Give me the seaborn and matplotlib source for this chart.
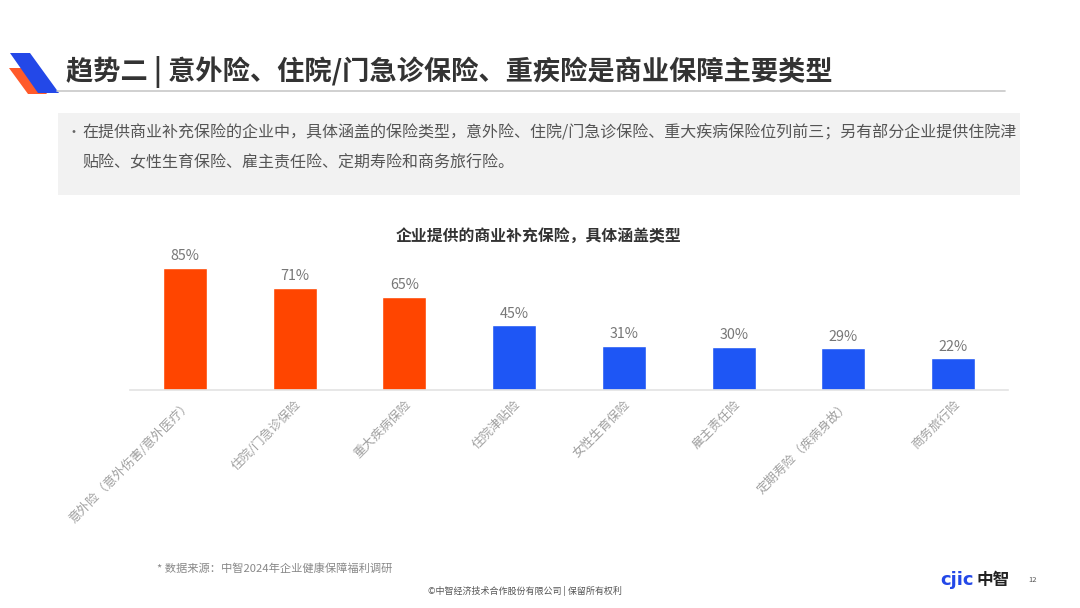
import matplotlib
matplotlib.use("Agg")
import matplotlib.pyplot as plt
from matplotlib.patches import Polygon, Rectangle
import seaborn as sns
import pandas as pd

categories = ["意外险（意外伤害/意外医疗）", "住院/门急诊保险", "重大疾病保险", "住院津贴险",
              "女性生育保险", "雇主责任险", "定期寿险（疾病身故）", "商务旅行险"]
values = [85, 71, 65, 45, 31, 30, 29, 22]
groups = ["top", "top", "top", "other", "other", "other", "other", "other"]
value_labels = ["85%", "71%", "65%", "45%", "31%", "30%", "29%", "22%"]

title = "趋势二 | 意外险、住院/门急诊保险、重疾险是商业保障主要类型"
bullet_lines = ["在提供商业补充保险的企业中，具体涵盖的保险类型，意外险、住院/门急诊保险、重大疾病保险位列前三；另有部分企业提供住院津",
                "贴险、女性生育保险、雇主责任险、定期寿险和商务旅行险。"]
chart_title = "企业提供的商业补充保险，具体涵盖类型"
source = "* 数据来源：中智2024年企业健康保障福利调研"
copyright_txt = "©中智经济技术合作股份有限公司 | 保留所有权利"

sns.set_theme(style="white")
plt.rcParams['font.family'] = ['Noto Sans CJK SC', 'DejaVu Sans']

W, H = 1080, 608
fig = plt.figure(figsize=(W / 100, H / 100), dpi=100)
fig.patch.set_facecolor("white")

def fx(x): return x / W
def fy(y): return 1 - y / H

# top-left logo
fig.patches.append(Polygon([(fx(9), fy(68)), (fx(28), fy(68)), (fx(47), fy(94)), (fx(28), fy(94))],
                           closed=True, transform=fig.transFigure, facecolor="#FF5A2A", edgecolor="none"))
fig.patches.append(Polygon([(fx(10), fy(53)), (fx(30), fy(53)), (fx(59), fy(93)), (fx(38), fy(93))],
                           closed=True, transform=fig.transFigure, facecolor="#2348E8", edgecolor="none"))

# title and rule
fig.text(fx(66), fy(72), title, fontsize=19.6, fontweight="bold", color="#333333", va="center", ha="left")
fig.add_artist(plt.Line2D([fx(57), fx(1005)], [fy(91), fy(91)], transform=fig.transFigure, color="#c8c8c8", lw=1.2))

# gray box
fig.patches.append(Rectangle((fx(58), fy(195)), fx(1020) - fx(58), fy(113) - fy(195),
                             transform=fig.transFigure, facecolor="#f2f2f2", edgecolor="none"))
fig.text(fx(66), fy(133), "•", fontsize=10, color="#666666", va="center", ha="left")
fig.text(fx(82), fy(133), bullet_lines[0], fontsize=11.5, color="#555555", va="center", ha="left")
fig.text(fx(82), fy(163), bullet_lines[1], fontsize=11.5, color="#555555", va="center", ha="left")

# chart title
fig.text(fx(539), fy(236), chart_title, fontsize=11.4, fontweight="bold", color="#333333", va="center", ha="center")

# bar chart
ax_left, ax_right, ax_bottom = 130, 1008, 390
ax_top = ax_bottom - 143.5
ax = fig.add_axes([fx(ax_left), fy(ax_bottom), fx(ax_right) - fx(ax_left), fy(ax_top) - fy(ax_bottom)])
df = pd.DataFrame({"cat": categories, "val": values, "grp": groups})
sns.barplot(data=df, x="cat", y="val", hue="grp", palette={"top": "#FF4500", "other": "#1E56F5"},
            dodge=False, legend=False, width=0.4, ax=ax, saturation=1)
ax.set_xlim(-0.5, len(categories) - 0.5)
ax.set_ylim(0, 100)
ax.set_xlabel("")
ax.set_ylabel("")
ax.set_yticks([])
ax.set_facecolor("none")
for s in ["top", "right", "left"]:
    ax.spines[s].set_visible(False)
ax.spines["bottom"].set_color("#e3e3e3")
ax.spines["bottom"].set_linewidth(1.2)
ax.tick_params(axis="x", length=0, pad=6)
ax.set_xticks(range(len(categories)))
ax.set_xticklabels(categories, rotation=45, ha="right", va="top", rotation_mode="anchor",
                   fontsize=9, color="#a0a0a0")
for i, (v, lab) in enumerate(zip(values, value_labels)):
    ax.annotate(lab, (i, v), xytext=(0, 3.5), textcoords="offset points", ha="center", va="bottom",
                fontsize=10.3, color="#777777")

# footer
fig.text(fx(157), fy(569), source, fontsize=8.1, color="#888888", va="center", ha="left")
fig.text(fx(525), fy(591), copyright_txt, fontsize=6.5, color="#555555", va="center", ha="center")
fig.text(fx(940), fy(580), "cjic", fontsize=13, fontweight="bold", color="#2348E8", va="center", ha="left",
         family=["DejaVu Sans"])
fig.text(fx(977), fy(580), "中智", fontsize=12, fontweight="bold", color="#222222", va="center", ha="left")
fig.text(fx(1033), fy(580), "12", fontsize=5.5, color="#555555", va="center", ha="center")

fig.savefig("out.png", dpi=100, facecolor="white")
